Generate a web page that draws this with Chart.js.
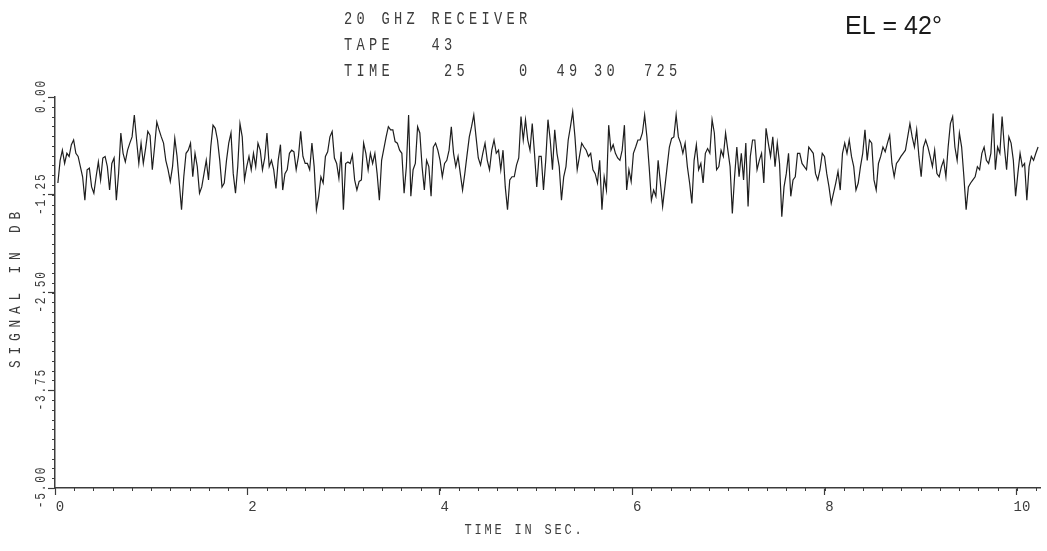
<!DOCTYPE html>
<html>
<head>
<meta charset="utf-8">
<script src="https://cdn.jsdelivr.net/npm/chart.js@4.4.0/dist/chart.umd.min.js"></script>
<style>
  html, body { margin: 0; padding: 0; background: #fff; }
  #wrap { position: relative; width: 1047px; height: 551px; }
</style>
</head>
<body>
<div id="wrap"><canvas id="chart" width="1047" height="551"></canvas></div>
<script>
// header text of the plot
const titleLines = ["20 GHZ RECEIVER", "TAPE   43", "TIME    25    0  49 30  725"];
const elevationLabel = "EL = 42\u00b0";
const xAxisTitle = "TIME IN SEC.";
const yAxisTitle = "SIGNAL IN DB";

// axes
const xTicks = [0, 2, 4, 6, 8, 10];
const yTicks = [0, -1.25, -2.5, -3.75, -5];
const yTickLabels = ["0.00", "-1.25", "-2.50", "-3.75", "-5.00"];

// signal in dB left to right (evenly spaced in time)
const sampleStart = 0.03;
const sampleEnd = 10.22;
const signalPart1 = [
  -1.10,-0.81,-0.68,-0.85,-0.72,-0.76,-0.61,-0.55,-0.72,-0.76,
  -0.89,-1.02,-1.32,-0.93,-0.91,-1.15,-1.23,-1.02,-0.83,-1.06,
  -0.78,-0.76,-0.89,-1.19,-0.85,-0.78,-1.32,-0.98,-0.46,-0.72,
  -0.83,-0.68,-0.59,-0.51,-0.23,-0.55,-0.85,-0.59,-0.85,-0.66,
  -0.44,-0.49,-0.93,-0.64,-0.32,-0.42,-0.51,-0.59,-0.81,-0.93,
  -1.08,-0.89,-0.53,-0.76,-1.10,-1.44,-1.02,-0.72,-0.68,-0.59,
  -1.02,-0.72,-0.89,-1.23,-1.15,-0.98,-0.81,-1.06,-0.64,-0.36,
  -0.40,-0.55,-0.81,-1.15,-1.10,-0.81,-0.59,-0.46,-0.98,-1.23,
  -0.89,-0.34,-0.51,-1.06,-0.89,-0.76,-0.93,-0.72,-0.89,-0.59,
  -0.68,-0.93,-0.78,-0.46,-0.89,-0.81,-0.93,-1.17,-0.81,-0.61,
  -1.19,-0.98,-0.93,-0.72,-0.68
];
const signalPart2 = [
  -0.70,-0.93,-0.76,-0.44,-0.76,-0.85,-0.85,-0.93,-0.59,-0.89,
  -1.44,-1.27,-1.02,-1.10,-0.76,-0.70,-0.51,-0.44,-0.78,-0.85,
  -1.04,-0.70,-1.44,-0.85,-0.83,-0.85,-0.74,-1.06,-1.19,-1.08,
  -1.06,-0.59,-0.72,-0.93,-0.72,-0.85,-0.72,-0.98,-1.32,-0.81,
  -0.66,-0.51,-0.38,-0.42,-0.42,-0.57,-0.59,-0.68,-0.72,-1.23,
  -0.89,-0.23,-1.27,-0.93,-0.85,-0.38,-0.46,-0.89,-1.19,-0.81,
  -0.89,-1.27,-0.64,-0.59,-0.68,-0.81,-1.02,-0.85,-0.81,-0.68,
  -0.38,-0.72,-0.89,-0.76,-0.98,-1.19,-0.98,-0.74,-0.51,-0.38,
  -0.23,-0.51,-0.78,-0.87,-0.72,-0.59,-0.81,-0.93,-0.68,-0.55,
  -0.72,-0.68,-0.93,-0.68,-1.15,-1.44,-1.06,-1.02,-1.02,-0.87,
  -0.78,-0.25,-0.55,-0.29
];
const signalPart3 = [
  -0.55,-0.68,-0.34,-0.72,-1.15,-0.76,-0.76,-1.19,-0.81,-0.29,
  -0.55,-0.93,-0.42,-0.72,-0.89,-1.32,-1.02,-0.89,-0.55,-0.38,
  -0.19,-0.51,-0.93,-0.76,-0.59,-0.64,-0.68,-0.76,-0.72,-0.93,
  -0.98,-1.10,-0.81,-1.44,-1.02,-1.19,-0.36,-0.68,-0.61,-0.72,
  -0.78,-0.81,-0.68,-0.36,-1.19,-0.93,-1.08,-0.72,-0.64,-0.55,
  -0.55,-0.46,-0.23,-0.51,-0.89,-1.32,-1.19,-1.27,-0.81,-1.10,
  -1.40,-1.15,-0.89,-0.64,-0.53,-0.51,-0.23,-0.51,-0.59,-0.72,
  -0.59,-0.89,-1.10,-1.36,-0.81,-0.61,-0.93,-0.85,-1.10,-0.72,
  -0.66,-0.72,-0.29,-0.46,-0.93,-0.89,-0.68,-0.76,-0.46,-0.68,
  -0.89,-1.49,-1.02,-0.64,-1.02,-0.72,-1.06,-0.59,-1.40,-0.76,
  -0.55,-0.55,-0.93,-0.81,-0.72,-1.10,-0.40,-0.59,-0.76
];
const signalPart4 = [
  -0.51,-0.89,-0.59,-0.85,-1.53,-1.15,-0.98,-0.72,-1.27,-1.06,
  -1.02,-0.72,-0.72,-0.85,-0.89,-0.93,-0.64,-0.68,-0.72,-0.98,
  -1.06,-0.93,-0.72,-0.76,-0.98,-1.15,-1.36,-1.23,-1.10,-0.95,
  -1.19,-0.72,-0.59,-0.72,-0.55,-0.76,-0.89,-1.19,-1.10,-0.89,
  -0.72,-0.42,-0.81,-0.55,-0.59,-1.06,-1.19,-0.85,-0.76,-0.64,
  -0.70,-0.59,-0.49,-0.85,-1.02,-0.85,-0.81,-0.76,-0.72,-0.68,
  -0.51,-0.34,-0.51,-0.64,-0.42,-0.76,-1.02,-0.64,-0.55,-0.64,
  -0.76,-0.89,-0.68,-0.98,-1.02,-0.89,-0.81,-1.02,-0.64,-0.34,
  -0.25,-0.64,-0.81,-0.46,-0.64,-1.02,-1.44,-1.15,-1.10,-1.06,
  -1.02,-0.89,-0.93,-0.72,-0.64,-0.81,-0.85,-0.72,-0.21,-0.93,
  -0.64,-0.72,-0.25,-0.64,-0.93,-0.51,-0.59,-0.81,-1.27,-0.98,
  -0.72,-0.89,-0.85,-1.32,-0.89,-0.76,-0.81,-0.72,-0.64
];

const signal = [...signalPart1, ...signalPart2, ...signalPart3, ...signalPart4];
const dt = (sampleEnd - sampleStart) / (signal.length - 1);
const points = signal.map((v, i) => ({ x: sampleStart + i * dt, y: v }));

const ink = "#3c3c3c";
const plotFont = '"Liberation Mono", "DejaVu Sans Mono", monospace';

// draw text one glyph at a time on a fixed pitch, like the plotter did;
// squeeze < 1 makes the glyphs narrow
function spaced(ctx, text, x, y, pitch, squeeze) {
  const sq = squeeze || 1;
  for (let i = 0; i < text.length; i++) {
    ctx.save();
    ctx.translate(x + i * pitch, y);
    ctx.scale(sq, 1);
    ctx.fillText(text[i], 0, 0);
    ctx.restore();
  }
}

const plotterText = {
  id: "plotterText",
  afterDraw(chart) {
    const { ctx, scales } = chart;
    const xs = scales.x, ys = scales.y;
    ctx.save();
    ctx.strokeStyle = ink;
    ctx.lineWidth = 1;

    // minor ticks
    ctx.beginPath();
    for (let k = 0; k <= 40; k++) {
      const py = Math.round(ys.getPixelForValue(-k * 0.125)) + 0.5;
      ctx.moveTo(xs.left - 3, py);
      ctx.lineTo(xs.left, py);
    }
    for (let k = 0; k <= 51; k++) {
      const px = Math.round(xs.getPixelForValue(k * 0.2)) + 0.5;
      ctx.moveTo(px, ys.bottom);
      ctx.lineTo(px, ys.bottom + 3);
    }
    ctx.stroke();

    ctx.fillStyle = ink;
    ctx.textBaseline = "middle";
    ctx.textAlign = "center";

    // header
    ctx.font = "19px " + plotFont;
    titleLines.forEach((line, i) => {
      spaced(ctx, line, 348, 19 + i * 26, 12.5, 0.72);
    });

    ctx.fillStyle = "#1a1a1a";
    ctx.textAlign = "left";
    ctx.font = '25px "Liberation Sans", Arial, sans-serif';
    ctx.fillText(elevationLabel, 845, 27);

    // x axis title
    ctx.fillStyle = ink;
    ctx.textAlign = "center";
    ctx.font = "15px " + plotFont;
    const xt = xAxisTitle;
    spaced(ctx, xt, 523 - (xt.length - 1) * 10 / 2, 530, 10, 0.8);

    // rotated y tick labels and axis title
    yTicks.forEach((v, i) => {
      const py = ys.getPixelForValue(v);
      const lab = yTickLabels[i];
      ctx.save();
      ctx.translate(41, py);
      ctx.rotate(-Math.PI / 2);
      ctx.font = "14px " + plotFont;
      spaced(ctx, lab, -(lab.length - 1) * 8.5 / 2, 0, 8.5, 0.8);
      ctx.restore();
    });
    ctx.save();
    ctx.translate(16, 290);
    ctx.rotate(-Math.PI / 2);
    ctx.font = "16px " + plotFont;
    spaced(ctx, yAxisTitle, -(yAxisTitle.length - 1) * 13.5 / 2, 0, 13.5, 0.8);
    ctx.restore();

    ctx.restore();
  }
};

new Chart(document.getElementById("chart"), {
  type: "line",
  data: {
    datasets: [{
      data: points,
      borderColor: "#1e1e1e",
      borderWidth: 1.2,
      pointRadius: 0,
      tension: 0,
      fill: false
    }]
  },
  options: {
    responsive: false,
    animation: false,
    devicePixelRatio: 1,
    layout: { padding: { top: 97, right: 7, left: 0, bottom: 0 } },
    plugins: {
      legend: { display: false },
      tooltip: { enabled: false },
      title: { display: false }
    },
    scales: {
      x: {
        type: "linear",
        min: 0,
        max: 10.24,
        afterBuildTicks: s => { s.ticks = xTicks.map(v => ({ value: v })); },
        afterFit: s => { s.height = 63; },
        border: { color: ink, width: 1.5 },
        grid: { drawOnChartArea: false, color: ink, tickLength: 7, tickWidth: 1.2 },
        ticks: {
          color: ink,
          padding: 4,
          maxRotation: 0,
          labelOffset: 5,
          font: { family: plotFont, size: 14 },
          callback: v => String(v)
        }
      },
      y: {
        type: "linear",
        min: -5,
        max: 0,
        afterBuildTicks: s => { s.ticks = yTicks.map(v => ({ value: v })); },
        afterFit: s => { s.width = 55; },
        border: { color: ink, width: 1.5 },
        grid: { drawOnChartArea: false, color: ink, tickLength: 7, tickWidth: 1.2 },
        ticks: { display: false }
      }
    }
  },
  plugins: [plotterText]
});
</script>
</body>
</html>
